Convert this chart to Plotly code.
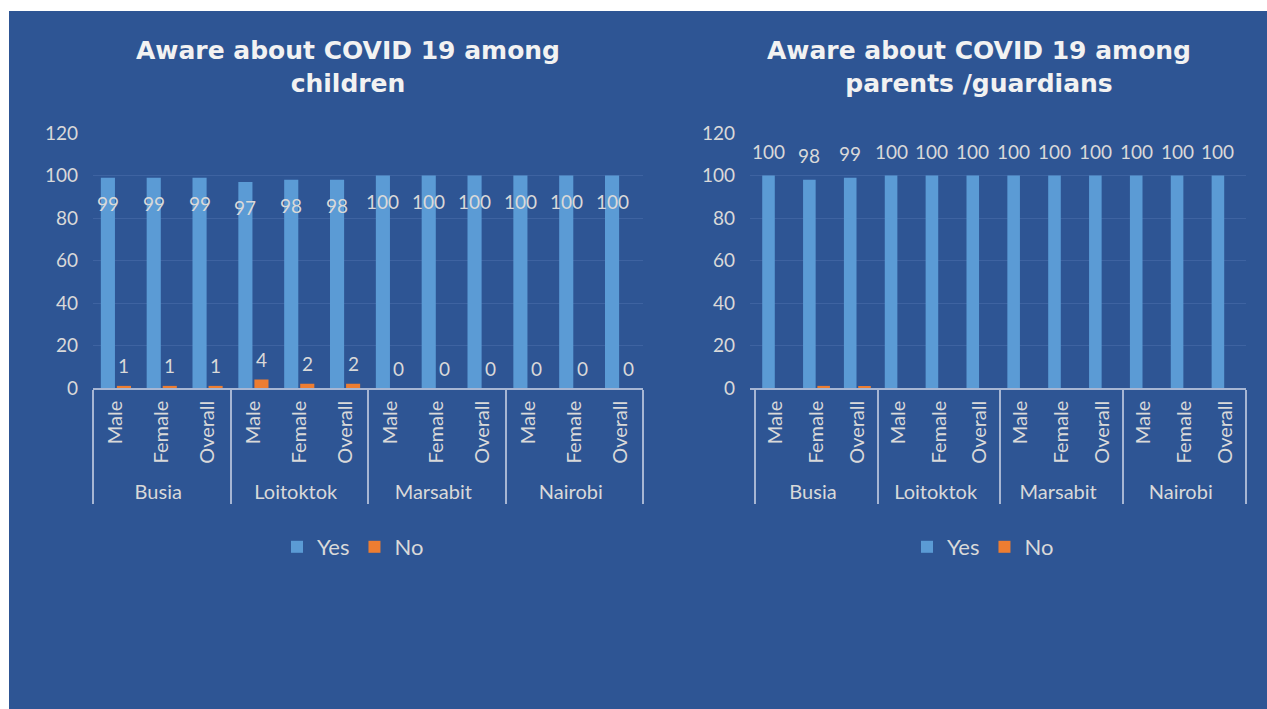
import plotly.graph_objects as go

# Categories
counties = ["Busia", "Loitoktok", "Marsabit", "Nairobi"]
subgroups = ["Male", "Female", "Overall"]

# Awareness (%) among children
children_yes = [99, 99, 99, 97, 98, 98, 100, 100, 100, 100, 100, 100]
children_no = [1, 1, 1, 4, 2, 2, 0, 0, 0, 0, 0, 0]

# Awareness (%) among parents / guardians
parents_yes = [100, 98, 99, 100, 100, 100, 100, 100, 100, 100, 100, 100]
parents_no = [0, 1, 0.5, 0, 0, 0, 0, 0, 0, 0, 0, 0]

y_ticks = [0, 20, 40, 60, 80, 100, 120]

titles = ["Aware about COVID 19 among<br>children",
          "Aware about COVID 19 among<br>parents /guardians"]

BG = "#2E5594"
YES_C = "#5B9BD5"
NO_C = "#ED7D31"
TXT = "#D9D9D9"
LINE_C = "#A7B6D3"
GRID_C = "#3E63A1"
FONT = "Lato"

W, H = 1267, 709

x_cat = [[c for c in counties for _ in subgroups],
         [s for _ in counties for s in subgroups]]

fig = go.Figure()

panels = [
    dict(yes=children_yes, no=children_no, xa="x", ya="y", legend="legend"),
    dict(yes=parents_yes, no=parents_no, xa="x2", ya="y2", legend="legend2"),
]

for p in panels:
    fig.add_trace(go.Bar(x=x_cat, y=p["yes"], name="Yes", marker_color=YES_C,
                         marker_line_width=0, xaxis=p["xa"], yaxis=p["ya"],
                         legend=p["legend"]))
    fig.add_trace(go.Bar(x=x_cat, y=p["no"], name="No", marker_color=NO_C,
                         marker_line_width=0, xaxis=p["xa"], yaxis=p["ya"],
                         legend=p["legend"]))

# pixel-based domains (margins are zero, so paper == page)
def fx(px):
    return px / W

def fy(py):
    return 1 - py / H

y_dom = [fy(388), fy(133)]
x_dom_left = [fx(93), fx(643)]
x_dom_right = [fx(750), fx(1245.5)]

axis_x = dict(type="multicategory", showdividers=True, dividercolor=LINE_C,
              dividerwidth=1.5, showline=True, linecolor=LINE_C, linewidth=1.5,
              tickangle=-90, ticks="", showgrid=False, ticklabelstandoff=3,
              tickfont=dict(family=FONT, size=20, color=TXT))
axis_y = dict(range=[0, 120], tickvals=y_ticks, showgrid=True, gridcolor=GRID_C,
              gridwidth=1, zeroline=False, showline=False, ticks="",
              tickfont=dict(family=FONT, size=19, color=TXT), ticklabelstandoff=14)

legend_style = dict(orientation="h", xanchor="center", yanchor="middle",
                    font=dict(family=FONT, size=22, color=TXT),
                    bgcolor="rgba(0,0,0,0)", itemwidth=30, traceorder="normal")

annotations = []
bar_off = 0.175
label_font = dict(family=FONT, size=19, color=TXT)

# left panel labels: Yes inside near the top, No above the bar
for i, (yv, nv) in enumerate(zip(children_yes, children_no)):
    annotations.append(dict(x=i - bar_off, y=yv, xref="x", yref="y", text=str(yv),
                            showarrow=False, yshift=-26, font=label_font))
    annotations.append(dict(x=i + bar_off, y=nv, xref="x", yref="y", text=str(nv),
                            showarrow=False, yshift=20, font=label_font))

# right panel labels: Yes above the bar
for i, yv in enumerate(parents_yes):
    annotations.append(dict(x=i - bar_off, y=yv, xref="x2", yref="y2", text=str(yv),
                            showarrow=False, yshift=24, font=label_font))

# panel titles
for xc, t in zip([347.5, 978.5], titles):
    annotations.append(dict(x=fx(xc), y=fy(67), xref="paper", yref="paper", text=t,
                            showarrow=False, xanchor="center", yanchor="middle",
                            font=dict(family="DejaVu Sans", size=25, color="#F2F2F2",
                                      weight="bold")))

fig.update_layout(
    width=W, height=H,
    margin=dict(l=0, r=0, t=0, b=0, autoexpand=False),
    paper_bgcolor="white",
    plot_bgcolor="rgba(0,0,0,0)",
    barmode="group", bargap=0.3, bargroupgap=0.12,
    xaxis=dict(domain=x_dom_left, anchor="y", **axis_x),
    yaxis=dict(domain=y_dom, anchor="x", **axis_y),
    xaxis2=dict(domain=x_dom_right, anchor="y2", **axis_x),
    yaxis2=dict(domain=y_dom, anchor="x2", **axis_y),
    legend=dict(x=fx(353), y=fy(547), **legend_style),
    legend2=dict(x=fx(983), y=fy(547), **legend_style),
    annotations=annotations,
    shapes=[dict(type="rect", xref="paper", yref="paper", x0=fx(9), x1=1,
                 y0=0, y1=fy(11), fillcolor=BG, line_width=0, layer="below")],
)

fig.write_html("out.html")
